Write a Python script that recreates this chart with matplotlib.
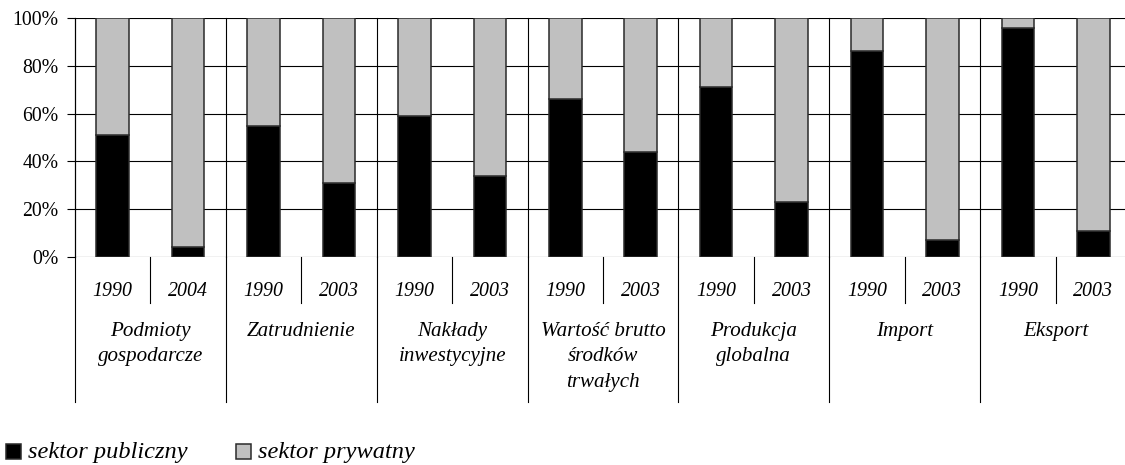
import matplotlib
matplotlib.use("Agg")
import matplotlib.pyplot as plt
from matplotlib.patches import Rectangle

groups = ["Podmioty\ngospodarcze", "Zatrudnienie", "Nakłady\ninwestycyjne",
          "Wartość brutto\nśrodków\ntrwałych", "Produkcja\nglobalna", "Import", "Eksport"]
years = ["1990", "2004", "1990", "2003", "1990", "2003", "1990", "2003",
         "1990", "2003", "1990", "2003", "1990", "2003"]
publiczny = [51, 4, 55, 31, 59, 34, 66, 44, 71, 23, 86, 7, 96, 11]
prywatny = [100 - v for v in publiczny]
series_names = ["sektor publiczny", "sektor prywatny"]
series_colors = ["black", "#c0c0c0"]
yticks = [0, 20, 40, 60, 80, 100]
ytick_labels = ["0%", "20%", "40%", "60%", "80%", "100%"]

W, H = 1125, 465
fig = plt.figure(figsize=(W / 100, H / 100), dpi=100)
serif = "Liberation Serif"
renderer = fig.canvas.get_renderer()


def fit_size(text, target_px, italic=True):
    t = fig.text(0, 0, text, fontsize=10, fontfamily=serif,
                 fontstyle="italic" if italic else "normal")
    w = t.get_window_extent(renderer).width
    t.remove()
    return 10 * target_px / w


fs_tick = fit_size("100%", 46, italic=False)
fs_year = fit_size("1990", 40)
fs_group = fit_size("Wartość brutto", 125)
fs_leg = fit_size("sektor publiczny", 159)

ax_left, ax_right = 75, 1131
ax_bottom_px, ax_top_px = 257, 18
ax = fig.add_axes([ax_left / W, 1 - ax_bottom_px / H,
                   (ax_right - ax_left) / W, (ax_bottom_px - ax_top_px) / H])

x = list(range(len(years)))
b1 = ax.bar(x, publiczny, width=0.43, color=series_colors[0], edgecolor="#2a2a2a",
            linewidth=1.1, zorder=3)
b2 = ax.bar(x, prywatny, width=0.43, bottom=publiczny, color=series_colors[1],
            edgecolor="#2a2a2a", linewidth=1.1, zorder=3)

ax.set_xlim(-0.5, len(years) - 0.5)
ax.set_ylim(0, 100)
ax.set_yticks(yticks)
ax.set_yticklabels(ytick_labels, fontfamily=serif, fontsize=fs_tick)
ax.tick_params(axis="y", length=5.8, width=0.8, pad=6.3)
ax.set_xticks([])
for s in ["top", "right", "bottom"]:
    ax.spines[s].set_visible(False)
ax.spines["left"].set_linewidth(0.8)

for yv in yticks:
    ax.axhline(yv, color="black", linewidth=0.8, zorder=1)

trans = ax.get_xaxis_transform()
axh = ax_bottom_px - ax_top_px
for g in range(len(groups) + 1):
    xb = 2 * g - 0.5
    ax.plot([xb, xb], [1, 0], color="black", linewidth=0.8, transform=trans,
            clip_on=False, zorder=1)
    ax.plot([xb, xb], [0, -145 / axh], color="black", linewidth=0.8,
            transform=trans, clip_on=False, zorder=1)
for g in range(len(groups)):
    xb = 2 * g + 0.5
    ax.plot([xb, xb], [0, -46 / axh], color="black", linewidth=0.8,
            transform=trans, clip_on=False)

for i, yr in enumerate(years):
    ax.text(i, -34 / axh, yr, transform=trans, ha="center", va="center",
            fontfamily=serif, fontstyle="italic", fontsize=fs_year)
for g, name in enumerate(groups):
    ax.text(2 * g + 0.5, -65 / axh, name, transform=trans, ha="center", va="top",
            fontfamily=serif, fontstyle="italic", fontsize=fs_group, linespacing=1.45)

# legend
leg_y = 451.5
for x0, name, col in zip([6, 236], series_names, series_colors):
    fig.patches.append(Rectangle((x0 / W, 1 - (leg_y + 7.5) / H), 15 / W, 15 / H,
                                 transform=fig.transFigure, facecolor=col,
                                 edgecolor="#2a2a2a", linewidth=1.1))
    fig.text((x0 + 22) / W, 1 - (leg_y + 1) / H, name, ha="left", va="center",
             fontfamily=serif, fontstyle="italic", fontsize=fs_leg)

fig.savefig("out.png", dpi=100)
